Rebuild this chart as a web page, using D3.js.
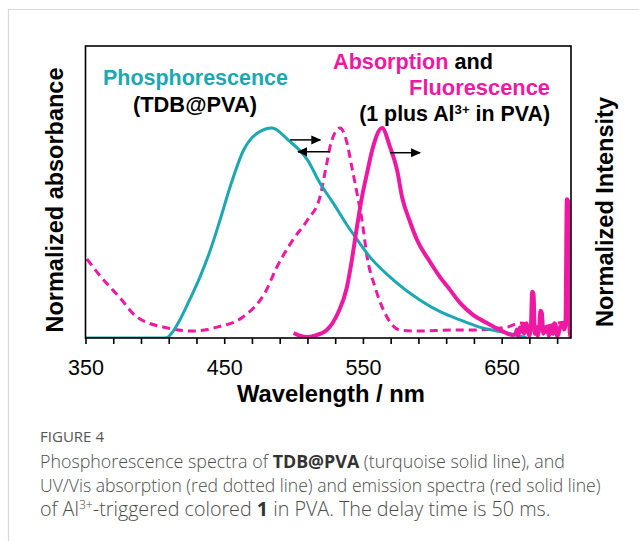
<!DOCTYPE html>
<html><head><meta charset="utf-8">
<script src="https://cdn.jsdelivr.net/npm/d3@7"></script>
<style>
body{margin:0;background:#fff}
text{font-family:"Liberation Sans",Arial,sans-serif}
.cap{font-family:"Open Sans","Noto Sans",sans-serif;font-weight:300;fill:#4d4d4d}
</style>
</head><body>
<svg id="c" width="639" height="541"></svg>
<script>
// ---- data ----
const phosWl  = [350, 405, 409, 411, 418, 425, 432.5, 440, 447, 454, 464, 474, 484.5, 496, 510, 519, 528.5, 538.5, 546, 555, 572, 591, 606, 620, 634, 654, 668];
const phosVal = [0, 0, 0.003, 0.014, 0.086, 0.181, 0.29, 0.419, 0.562, 0.714, 0.895, 0.976, 1.0, 0.943, 0.848, 0.738, 0.643, 0.538, 0.467, 0.386, 0.276, 0.181, 0.124, 0.086, 0.052, 0.024, 0];

const absWl  = [351, 360, 375, 387, 409, 427.5, 445, 463.5, 479.5, 488, 499.5, 510, 519, 524, 527, 533.5, 538.5, 542, 545.7, 549.3, 553, 558.7, 567.3, 576.7, 591, 615, 629, 654, 663, 678, 691, 696];
const absVal = [0.376, 0.30, 0.19, 0.10, 0.048, 0.033, 0.052, 0.10, 0.217, 0.338, 0.467, 0.562, 0.671, 0.833, 0.929, 1.0, 0.929, 0.814, 0.69, 0.562, 0.386, 0.243, 0.10, 0.038, 0.033, 0.038, 0.038, 0.052, 0.071, 0.052, 0.071, 0.076];

const fluWl  = [500, 505, 510, 517, 524, 532, 538.5, 542, 545.7, 549.3, 553, 557.3, 563.8, 569.5, 574.6, 578.2, 584, 589, 598.4, 605.6, 612.8, 620, 629.4, 639.5, 649, 658,
  660, 661, 662, 663, 664, 665, 666, 667, 668, 669, 670, 671, 672, 673, 674, 675, 676, 677, 678, 679, 680,
  681, 682, 683, 684, 685, 686, 687, 688, 689, 690, 691, 692, 693, 694, 695, 696, 697, 698, 699, 700];
const fluVal = [0.024, 0.01, 0.005, 0.015, 0.038, 0.119, 0.243, 0.371, 0.529, 0.671, 0.786, 0.91, 1.0, 0.91, 0.8, 0.671, 0.552, 0.467, 0.362, 0.29, 0.229, 0.167, 0.11, 0.071, 0.038, 0.014,
  0.02, 0.04, 0.01, 0.05, 0.03, 0.06, 0.02, 0.05, 0.07, 0.03, 0.01, 0.04, 0.22, 0.21, 0.02, 0.05, 0.01, 0.04, 0.13, 0.12, 0.02,
  0.05, 0.03, 0.05, 0.01, 0.04, 0.05, 0.02, 0.07, 0.06, 0.01, 0.02, 0.05, 0.06, 0.07, 0.04, 0.06, 0.66, 0.65, 0.03, 0.0];

const xTicks = [350, 370, 390, 410, 430, 450, 470, 490, 510, 530, 550, 570, 590, 610, 630, 650, 670, 690];
const xTickLabels = ["350", "450", "550", "650"];

// arrow annotations (wavelength from, wavelength to, level)
const arrowFrom  = [497.6, 526.3, 569.6];
const arrowTo    = [519.3, 503.2, 591.2];
const arrowLevel = [0.943, 0.887, 0.882];

// ---- layout ----
const TEAL = "#1ba8b2", MAG = "#ee19a3";
const svg = d3.select("#c");
svg.append("rect").attr("width", 639).attr("height", 541).attr("fill", "#fff");
svg.append("path").attr("d", "M8.5,541 V9.5 H639").attr("fill", "none").attr("stroke", "#d9d9d9").attr("stroke-width", 1.2);

const L = 85.5, R = 571, T = 46, B = 338;
const x = d3.scaleLinear().domain([350, 700]).range([L, R]);
const y = d3.scaleLinear().domain([0, 1.39]).range([B, T]);

const defs = svg.append("defs");
defs.append("clipPath").attr("id", "clip").append("rect").attr("x", L).attr("y", T).attr("width", R - L).attr("height", B - T);
defs.append("marker").attr("id", "ah").attr("viewBox", "0 0 10 10").attr("refX", 9).attr("refY", 5)
  .attr("markerWidth", 10).attr("markerHeight", 10).attr("markerUnits", "userSpaceOnUse").attr("orient", "auto")
  .append("path").attr("d", "M0,0.5 L10,5 L0,9.5 Z").attr("fill", "#000");

const line = d3.line().x(d => x(d[0])).y(d => y(d[1])).curve(d3.curveMonotoneX);
const g = svg.append("g").attr("clip-path", "url(#clip)");

g.append("path").datum(d3.zip(absWl, absVal)).attr("d", line)
  .attr("fill", "none").attr("stroke", MAG).attr("stroke-width", 3).attr("stroke-dasharray", "8,5");
g.append("path").datum(d3.zip(phosWl, phosVal)).attr("d", line)
  .attr("fill", "none").attr("stroke", TEAL).attr("stroke-width", 3);
g.append("path").datum(d3.zip(fluWl, fluVal)).attr("d", line)
  .attr("fill", "none").attr("stroke", MAG).attr("stroke-width", 4).attr("stroke-linejoin", "round");

svg.append("rect").attr("x", L).attr("y", T).attr("width", R - L).attr("height", B - T)
  .attr("fill", "none").attr("stroke", "#000").attr("stroke-width", 1.6);

const ax = svg.append("g").attr("transform", `translate(0,${B})`)
  .call(d3.axisBottom(x).tickValues(xTicks).tickSize(6).tickFormat(d => xTickLabels.includes(String(d)) ? String(d) : ""));
ax.select(".domain").remove();
ax.selectAll(".tick line").attr("stroke", "#000").attr("stroke-width", 1.6);
ax.selectAll(".tick text").attr("font-size", 21.5).attr("font-family", "Liberation Sans, Arial, sans-serif").attr("fill", "#000").attr("dy", 0).attr("y", 37);

function fit(sel, w) {
  const l = sel.node().getComputedTextLength();
  const fs = parseFloat(sel.attr("font-size"));
  sel.attr("font-size", (fs * w / l).toFixed(2));
  return sel;
}

fit(svg.append("text").attr("x", 331).attr("y", 402).attr("text-anchor", "middle").attr("font-weight", "bold").attr("font-size", 22)
  .text("Wavelength / nm"), 188);

fit(svg.append("text").attr("transform", "translate(63,200) rotate(-90)").attr("text-anchor", "middle").attr("font-weight", "bold").attr("font-size", 20)
  .text("Normalized absorbance"), 265);
fit(svg.append("text").attr("transform", "translate(613,212) rotate(-90)").attr("text-anchor", "middle").attr("font-weight", "bold").attr("font-size", 20)
  .text("Normalized Intensity"), 230);

svg.append("g").selectAll("line").data(d3.range(arrowFrom.length)).join("line")
  .attr("x1", i => x(arrowFrom[i])).attr("x2", i => x(arrowTo[i]))
  .attr("y1", i => y(arrowLevel[i])).attr("y2", i => y(arrowLevel[i]))
  .attr("stroke", "#000").attr("stroke-width", 1.5).attr("marker-end", "url(#ah)");

fit(svg.append("text").attr("x", 103).attr("y", 85).attr("font-weight", "bold").attr("font-size", 19).attr("fill", TEAL)
  .text("Phosphorescence"), 185);
fit(svg.append("text").attr("x", 133).attr("y", 112).attr("font-weight", "bold").attr("font-size", 19).attr("fill", "#000")
  .text("(TDB@PVA)"), 124);
const t1 = svg.append("text").attr("x", 333).attr("y", 69).attr("font-weight", "bold").attr("font-size", 19);
t1.append("tspan").attr("fill", MAG).text("Absorption");
t1.append("tspan").attr("fill", "#000").text(" and");
fit(t1, 160);
fit(svg.append("text").attr("x", 550).attr("y", 95).attr("text-anchor", "end").attr("font-weight", "bold").attr("font-size", 19).attr("fill", MAG)
  .text("Fluorescence"), 141);
const t3 = svg.append("text").attr("x", 550).attr("y", 121).attr("text-anchor", "end").attr("font-weight", "bold").attr("font-size", 19).attr("fill", "#000");
t3.append("tspan").text("(1 plus Al");
t3.append("tspan").attr("font-size", "0.62em").attr("dy", -7).text("3+");
t3.append("tspan").attr("dy", 7).text(" in PVA)");
fit(t3, 191);

fit(svg.append("text").attr("class", "cap").attr("x", 40).attr("y", 442).attr("font-size", 13).style("fill", "#555").style("font-weight", 400)
  .text("FIGURE 4"), 64);
const c1 = svg.append("text").attr("class", "cap").attr("x", 40).attr("y", 468).attr("font-size", 17);
c1.append("tspan").text("Phosphorescence spectra of ");
c1.append("tspan").style("font-weight", 700).style("fill", "#333").text("TDB@PVA");
c1.append("tspan").text(" (turquoise solid line), and");
fit(c1, 525);
fit(svg.append("text").attr("class", "cap").attr("x", 40).attr("y", 492).attr("font-size", 17)
  .text("UV/Vis absorption (red dotted line) and emission spectra (red solid line)"), 561);
const c3 = svg.append("text").attr("class", "cap").attr("x", 40).attr("y", 516).attr("font-size", 17);
c3.append("tspan").text("of Al");
c3.append("tspan").attr("font-size", "0.62em").attr("dy", -7).text("3+");
c3.append("tspan").attr("dy", 7).text("-triggered colored ");
c3.append("tspan").style("font-weight", 700).style("fill", "#333").text("1");
c3.append("tspan").text(" in PVA. The delay time is 50 ms.");
fit(c3, 511);
</script>
</body></html>
